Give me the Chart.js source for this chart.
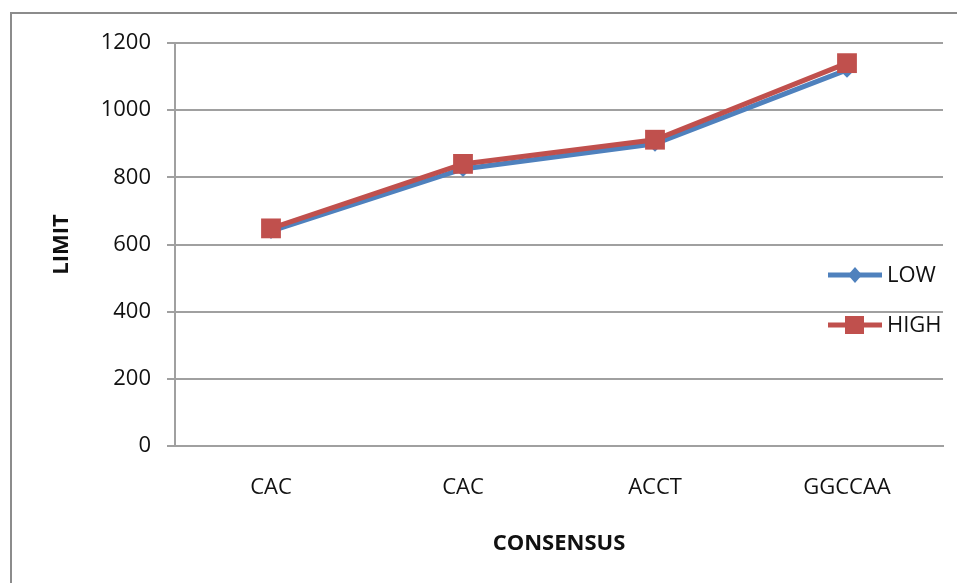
<!DOCTYPE html>
<html>
<head>
<meta charset="utf-8">
<script src="https://cdn.jsdelivr.net/npm/chart.js"></script>
<style>
  html, body { margin: 0; padding: 0; background: #fff; }
  #wrap { width: 957px; height: 583px; }
</style>
</head>
<body>
<div id="wrap"><canvas id="myChart" width="957" height="583"></canvas></div>
<script>
var categories = ["CAC", "CAC", "ACCT", "GGCCAA"];
var lowValues = [640, 825, 900, 1120];
var highValues = [648, 840, 912, 1140];
var seriesNames = ["LOW", "HIGH"];
var yMin = 0, yMax = 1200, yStep = 200;

var blue = '#4F81BD';
var red = '#C0504D';
var gridColor = '#a0a0a0';
var fontFamily = '"Open Sans", Calibri, sans-serif';

// outer frame of the chart (runs off the right and bottom edges)
var framePlugin = {
    id: 'frame',
    beforeDraw: function (chart) {
        var ctx = chart.ctx;
        ctx.save();
        ctx.strokeStyle = '#8c8c8c';
        ctx.lineWidth = 2;
        ctx.strokeRect(11, 13, 1200, 1200);
        ctx.restore();
    }
};

// legend sits inside the plot on the right, Excel style
var legendPlugin = {
    id: 'sideLegend',
    afterDraw: function (chart) {
        var ctx = chart.ctx;
        var items = [
            { text: seriesNames[0], color: blue, shape: 'diamond', y: 275 },
            { text: seriesNames[1], color: red, shape: 'square', y: 325 }
        ];
        ctx.save();
        items.forEach(function (it) {
            ctx.strokeStyle = it.color;
            ctx.lineWidth = 5;
            ctx.beginPath();
            ctx.moveTo(828, it.y);
            ctx.lineTo(882, it.y);
            ctx.stroke();
            ctx.fillStyle = it.color;
            ctx.beginPath();
            if (it.shape === 'diamond') {
                ctx.moveTo(855, it.y - 8);
                ctx.lineTo(862, it.y);
                ctx.lineTo(855, it.y + 8);
                ctx.lineTo(848, it.y);
            } else {
                ctx.rect(845, it.y - 9, 19, 18);
            }
            ctx.closePath();
            ctx.fill();
            ctx.fillStyle = '#111';
            ctx.font = '22px ' + fontFamily;
            ctx.textBaseline = 'middle';
            ctx.textAlign = 'left';
            ctx.fillText(it.text, 887, it.y + 1);
        });
        ctx.restore();
    }
};

var ctx = document.getElementById('myChart').getContext('2d');
var chart = new Chart(ctx, {
    type: 'line',
    data: {
        labels: categories,
        datasets: [{
            label: seriesNames[0],
            data: lowValues,
            borderColor: blue,
            backgroundColor: blue,
            borderWidth: 5,
            pointStyle: 'rectRot',
            pointRadius: 8,
            pointBorderWidth: 0,
            tension: 0,
            order: 1
        }, {
            label: seriesNames[1],
            data: highValues,
            borderColor: red,
            backgroundColor: red,
            borderWidth: 5,
            pointStyle: 'rect',
            pointRadius: 14,
            pointBorderWidth: 0,
            tension: 0,
            order: 0
        }]
    },
    options: {
        responsive: false,
        animation: false,
        devicePixelRatio: 1,
        layout: { padding: { left: 0, top: 43, right: 14, bottom: 0 } },
        plugins: {
            legend: { display: false },
            tooltip: { enabled: false }
        },
        scales: {
            x: {
                offset: true,
                grid: { display: false, drawTicks: false },
                border: { display: true, color: gridColor, width: 2 },
                ticks: { color: '#111', font: { family: fontFamily, size: 22 }, padding: 29, maxRotation: 0, autoSkip: false },
                title: { display: true, text: 'CONSENSUS', color: '#111', font: { family: fontFamily, size: 22, weight: 'bold' }, padding: { top: 0, bottom: 26 } },
                afterFit: function (scale) { scale.height = 137; }
            },
            y: {
                min: yMin,
                max: yMax,
                ticks: {
                    stepSize: yStep, color: '#111', font: { family: fontFamily, size: 22 }, padding: 16,
                    callback: function (value) { return String(value); }
                },
                grid: { color: gridColor, lineWidth: 2, drawTicks: true, tickLength: 8 },
                border: { display: true, color: gridColor, width: 2 },
                title: { display: true, text: 'LIMIT', color: '#111', font: { family: fontFamily, size: 22, weight: 'bold' }, padding: { top: 49, bottom: 0 } },
                afterFit: function (scale) { scale.width = 175; }
            }
        }
    },
    plugins: [framePlugin, legendPlugin]
});
</script>
</body>
</html>
